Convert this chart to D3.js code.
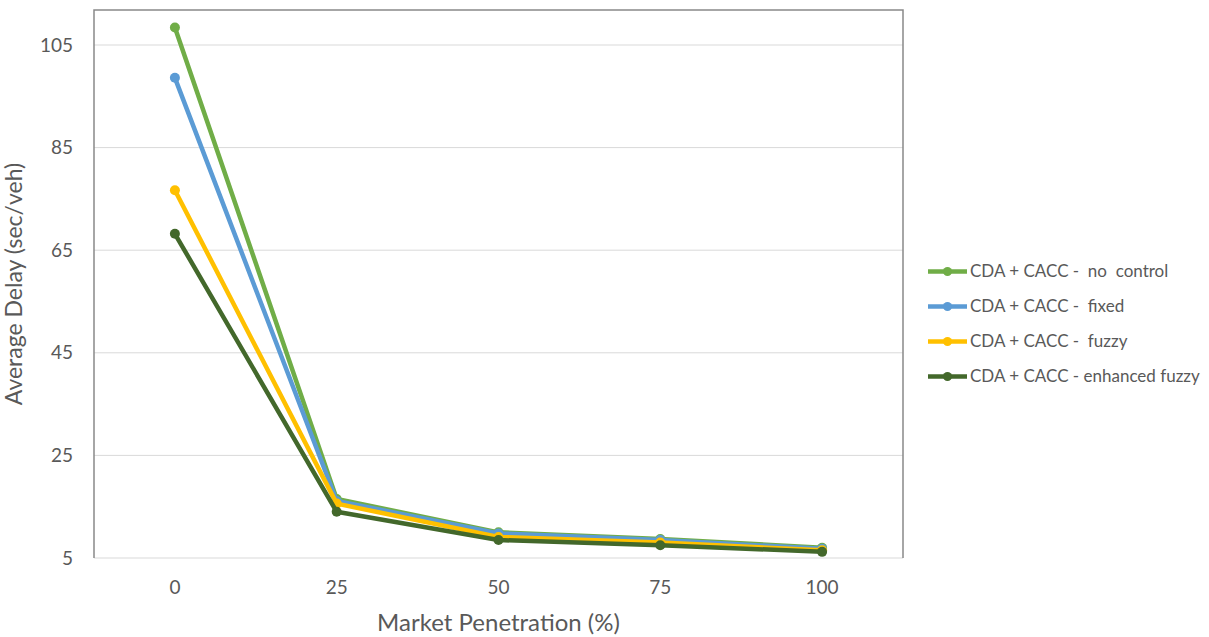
<!DOCTYPE html>
<html><head><meta charset="utf-8">
<script src="https://cdn.jsdelivr.net/npm/d3@7"></script>
<style>body{margin:0;background:#fff}svg{display:block}text{font-family:Lato,"Open Sans",sans-serif;fill:#595959}</style>
</head><body>
<svg id="c" width="1209" height="637"></svg>
<script>
const categories = ["0","25","50","75","100"];
const seriesNames = ["CDA + CACC -  no  control","CDA + CACC -  fixed","CDA + CACC -  fuzzy","CDA + CACC - enhanced fuzzy"];
const noControl = [108.4, 16.5, 10.0, 8.7, 7.0];
const fixed = [98.6, 16.1, 9.8, 8.5, 6.8];
const fuzzy = [76.7, 15.6, 9.1, 8.0, 6.5];
const enhancedFuzzy = [68.2, 14.0, 8.5, 7.5, 6.2];
const yTicks = [5,25,45,65,85,105];
const colors = ["#70AD47","#5B9BD5","#FFC000","#43682B"];
const seriesValues = [noControl, fixed, fuzzy, enhancedFuzzy];

const svg = d3.select("#c");
const L=94, R=903, T=10, B=558;
const x = d3.scaleBand().domain(categories).range([L,R]);
const y = d3.scaleLinear().domain([5,105]).range([B,45]);

// gridlines
svg.append("g").selectAll("line").data(yTicks).join("line")
  .attr("x1",L).attr("x2",R).attr("y1",d=>y(d)).attr("y2",d=>y(d))
  .attr("stroke","#d9d9d9").attr("stroke-width",1);
// frame
svg.append("path").attr("d",`M${L},${B}V${T}H${R}V${B}`).attr("fill","none").attr("stroke","#898989").attr("stroke-width",1.5);

// y axis labels
const ya = svg.append("g").attr("transform",`translate(${L},0)`)
  .call(d3.axisLeft(y).tickValues(yTicks).tickSize(0).tickPadding(21));
ya.select(".domain").remove();
ya.selectAll("text").style("font-size","19px").attr("fill","#595959").style("font-family","Lato");

// x axis labels
const xa = svg.append("g").attr("transform",`translate(0,${B})`)
  .call(d3.axisBottom(x).tickSize(0).tickPadding(23));
xa.select(".domain").remove();
xa.selectAll("text").style("font-size","19px").attr("fill","#595959").style("font-family","Lato");

// titles
svg.append("text").attr("x",(L+R)/2).attr("y",623).attr("dy","0.35em").attr("text-anchor","middle").style("font-size","24px").text("Market Penetration (%)");
svg.append("text").attr("transform",`translate(14,${(T+B)/2}) rotate(-90)`).attr("dy","0.35em").attr("text-anchor","middle").style("font-size","23px").text("Average Delay (sec/veh)");

const line = d3.line().x((d,i)=>x(categories[i])+x.bandwidth()/2).y(d=>y(d));
seriesValues.forEach((vals,si)=>{
  const g = svg.append("g");
  g.append("path").attr("d",line(vals)).attr("fill","none").attr("stroke",colors[si]).attr("stroke-width",4.5).attr("stroke-linejoin","round");
  g.selectAll("circle").data(vals).join("circle")
    .attr("cx",(d,i)=>x(categories[i])+x.bandwidth()/2).attr("cy",d=>y(d)).attr("r",5).attr("fill",colors[si]);
});

// legend
const lg = svg.append("g");
seriesNames.forEach((n,i)=>{
  const yy = 271.5 + i*35;
  lg.append("line").attr("x1",928).attr("x2",967).attr("y1",yy).attr("y2",yy).attr("stroke",colors[i]).attr("stroke-width",4.5);
  lg.append("circle").attr("cx",947.5).attr("cy",yy).attr("r",4.5).attr("fill",colors[i]);
  lg.append("text").attr("x",970).attr("y",yy).attr("dy","0.35em").style("font-size","17px").style("white-space","pre").attr("xml:space","preserve").text(n);
});
</script>
</body></html>
